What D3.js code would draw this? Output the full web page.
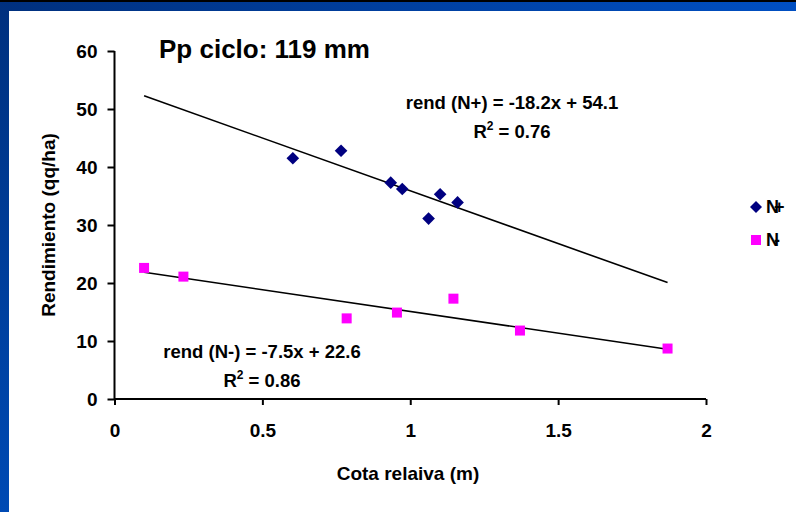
<!DOCTYPE html>
<html>
<head>
<meta charset="utf-8">
<script src="https://cdn.jsdelivr.net/npm/d3@7"></script>
<style>
  html, body { margin: 0; padding: 0; background: #fff; }
  svg { display: block; }
  text { font-family: "Liberation Sans", Arial, sans-serif; font-weight: bold; fill: #000; }
</style>
</head>
<body>
<svg id="chart" width="796" height="512"></svg>
<script>
// Relative elevation (m) and yield (qq/ha), with and without nitrogen
const nPlusX = [0.603, 0.766, 0.934, 0.973, 1.062, 1.101, 1.160];
const nPlusY = [41.5, 42.8, 37.3, 36.2, 31.1, 35.3, 33.9];
const nMinusX = [0.10, 0.233, 0.785, 0.955, 1.146, 1.371, 1.87];
const nMinusY = [22.6, 21.1, 13.9, 14.9, 17.3, 11.8, 8.7];

// Linear fits as reported on the chart
const fitPlus = { slope: -18.2, intercept: 54.1, r2: "0.76", label: "rend (N+) = -18.2x + 54.1" };
const fitMinus = { slope: -7.5, intercept: 22.6, r2: "0.86", label: "rend (N-) = -7.5x + 22.6" };
const fitRange = [0.10, 1.87];

const xTicks = [0, 0.5, 1, 1.5, 2];
const yTicks = [0, 10, 20, 30, 40, 50, 60];
const seriesNames = ["N+", "N-"];

const svg = d3.select("#chart");
const W = 796, H = 512;
const FONT = "'Liberation Sans', Arial, sans-serif";

// Slide frame: dark blue gradient bands on top and left
const defs = svg.append("defs");
const gTop = defs.append("linearGradient").attr("id", "gTop").attr("x1", 0).attr("x2", 1).attr("y1", 0).attr("y2", 0);
gTop.append("stop").attr("offset", 0).attr("stop-color", "#00307e");
gTop.append("stop").attr("offset", 1).attr("stop-color", "#004fc2");
const gLeft = defs.append("linearGradient").attr("id", "gLeft").attr("x1", 0).attr("x2", 0).attr("y1", 0).attr("y2", 1);
gLeft.append("stop").attr("offset", 0).attr("stop-color", "#00307e");
gLeft.append("stop").attr("offset", 1).attr("stop-color", "#004ab4");

svg.append("rect").attr("x", 0).attr("y", 0).attr("width", W).attr("height", 11).attr("fill", "url(#gTop)");
svg.append("rect").attr("x", 0).attr("y", 0).attr("width", 9).attr("height", H).attr("fill", "url(#gLeft)");
svg.append("rect").attr("x", 0).attr("y", 0).attr("width", W).attr("height", 2).attr("fill", "#000");

const x = d3.scaleLinear().domain([0, 2]).range([114.5, 706]);
const y = d3.scaleLinear().domain([0, 60]).range([399, 51]);

// Axes
const xAxis = svg.append("g").attr("transform", "translate(0,399)")
  .call(d3.axisBottom(x).tickValues(xTicks).tickFormat(d3.format("")).tickSize(6).tickPadding(19));
const yAxis = svg.append("g").attr("transform", "translate(114.5,0)")
  .call(d3.axisLeft(y).tickValues(yTicks).tickSize(7).tickPadding(10));
[xAxis, yAxis].forEach(a => {
  a.selectAll("path").attr("stroke", "#000").attr("stroke-width", 2);
  a.selectAll("line").attr("stroke", "#000").attr("stroke-width", 2);
  a.selectAll("text").style("font-size", "19px").style("font-family", FONT).style("font-weight", "bold");
});
xAxis.select(".domain").attr("d", `M${x(0)},0H${x(2)}`);
yAxis.select(".domain").attr("d", `M0,${y(60)}V${y(0)}`);

// Axis titles
svg.append("text").attr("x", 408).attr("y", 480).attr("text-anchor", "middle")
  .style("font-size", "19px").text("Cota relaiva (m)");
svg.append("text").attr("transform", "translate(55,225) rotate(-90)").attr("text-anchor", "middle")
  .style("font-size", "19px").text("Rendimiento (qq/ha)");

// Chart title
svg.append("text").attr("x", 159).attr("y", 58).style("font-size", "26px").text("Pp ciclo: 119 mm");

// Trend lines
const line = d3.line().x(d => x(d[0])).y(d => y(d[1]));
[fitPlus, fitMinus].forEach(f => {
  svg.append("path")
    .attr("d", line(fitRange.map(v => [v, f.intercept + f.slope * v])))
    .attr("stroke", "#000").attr("stroke-width", 1.6).attr("fill", "none");
});

// N+ diamonds
svg.append("g").selectAll("path").data(nPlusX.map((v, i) => [v, nPlusY[i]])).join("path")
  .attr("transform", d => `translate(${x(d[0])},${y(d[1])}) rotate(45)`)
  .attr("d", d3.symbol().type(d3.symbolSquare).size(80))
  .attr("fill", "#000080");

// N- squares
svg.append("g").selectAll("rect").data(nMinusX.map((v, i) => [v, nMinusY[i]])).join("rect")
  .attr("x", d => x(d[0]) - 5).attr("y", d => y(d[1]) - 5)
  .attr("width", 10).attr("height", 10).attr("fill", "#ff00ff");

// Fit annotations
function annotate(cx, cy, f) {
  svg.append("text").attr("x", cx).attr("y", cy).attr("text-anchor", "middle")
    .style("font-size", "18.5px").text(f.label);
  const t = svg.append("text").attr("x", cx).attr("y", cy + 29).attr("text-anchor", "middle").style("font-size", "18.5px");
  t.append("tspan").text("R");
  t.append("tspan").attr("dy", -8).style("font-size", "12px").text("2");
  t.append("tspan").attr("dy", 8).text(" = " + f.r2);
}
annotate(512, 109, fitPlus);
annotate(262, 358, fitMinus);

// Legend
const leg = svg.append("g");
leg.append("path").attr("transform", "translate(756,207) rotate(45)")
  .attr("d", d3.symbol().type(d3.symbolSquare).size(72)).attr("fill", "#000080");
leg.append("rect").attr("x", 751).attr("y", 235).attr("width", 10).attr("height", 10).attr("fill", "#ff00ff");
leg.append("text").attr("x", 766).attr("y", 213).style("font-size", "18px").attr("letter-spacing", "-5px").text(seriesNames[0]);
leg.append("text").attr("x", 766).attr("y", 246).style("font-size", "18px").attr("letter-spacing", "-5px").text(seriesNames[1]);
</script>
</body>
</html>
